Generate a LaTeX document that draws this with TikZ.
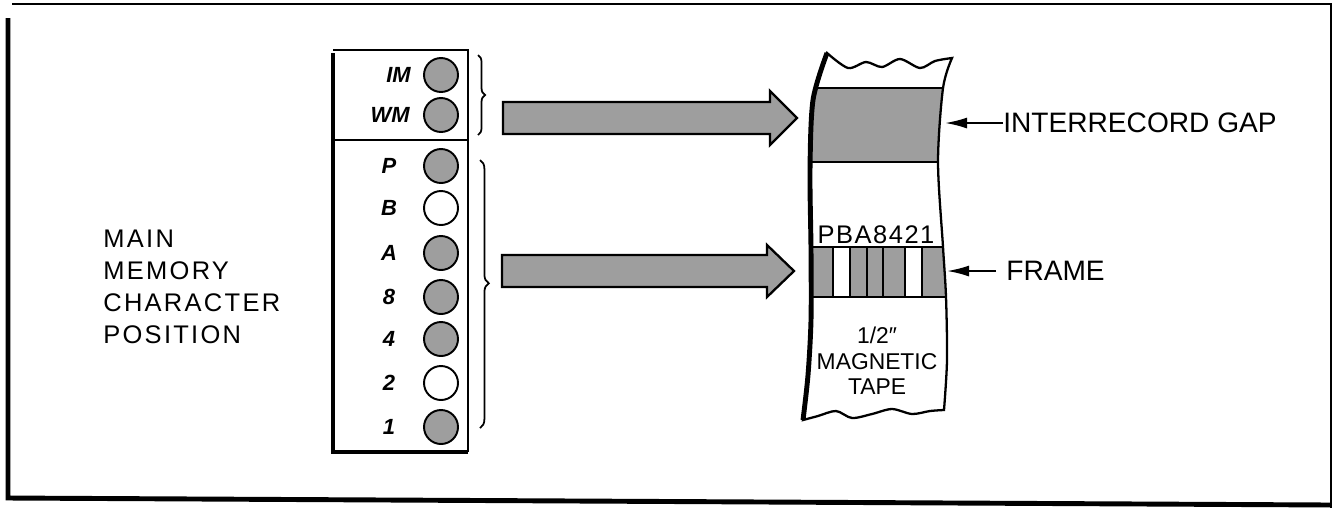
\documentclass[tikz,border=0pt]{standalone}
\usepackage{fontspec}
\setmainfont{Liberation Sans}
\usetikzlibrary{arrows.meta, decorations.pathreplacing, positioning}

\def\tapeoutline{plot[smooth] coordinates {(827,53) (848,68) (866,62) (882,67) (900,59) (920,68) (935,61) (952,58)}
 -- plot[smooth] coordinates {(952,58) (943,88) (938,162) (943,247) (946,297) (947,360) (944,410)}
 -- plot[smooth] coordinates {(944,410) (930,411) (912,414) (892,409) (872,414) (852,418) (836,411) (818,416) (803,420)}
 -- plot[smooth] coordinates {(803,420) (808,375) (811,320) (811,250) (810,170) (813,100) (827,53)} -- cycle}

\begin{document}
\begin{tikzpicture}[x=.02cm,y=-.02cm,>={Latex[length=.44cm,width=.22cm]},
 every node/.style={inner sep=0pt},
 lett/.style={font=\fontsize{14.5}{18.2}\selectfont\addfontfeature{LetterSpace=9}},
 big/.style={font=\fontsize{16}{18}\selectfont},
 bitlbl/.style={font=\fontsize{12.5}{14}\selectfont\bfseries\itshape},
 on/.style={circle,draw,line width=1.1pt,minimum size=.68cm,fill=black!38},
 off/.style={circle,draw,line width=1.1pt,minimum size=.68cm,fill=white},
 dots/.style={fill=black!38},
 fat/.style={line width=2.8pt},
 blk/.style={draw,line width=1.3pt,fill=black!38,line join=miter}]
 \useasboundingbox (0,0) rectangle (1337,508);
 % outer frame
 \draw[line width=1pt] (12,4) -- (1331,4) -- (1331,508);
 \draw[fat] (8,18) -- (8,498) -- (1331,505);
 % memory position
 \draw[line width=1pt] (333,50) -- (468,50) -- (468,452);
 \draw[fat] (333,53) -- (333,452) -- (468,452);
 \draw[line width=1pt] (333,140) -- (468,140);
 \node[on] (im) at (441,75) {};
 \node[on] (wm) at (441,115) {};
 \node[on] (p) at (441,166) {};
 \node[off] (b) at (441,208) {};
 \node[on] (a) at (441,253) {};
 \node[on] (e) at (441,297) {};
 \node[on] (f) at (441,339) {};
 \node[off] (t) at (441,383) {};
 \node[on] (o) at (441,427) {};
 \node[bitlbl,left=.24cm of im] {IM};
 \node[bitlbl,left=.26cm of wm] {WM};
 \node[bitlbl] at (389,166) {P};
 \node[bitlbl] at (389,208) {B};
 \node[bitlbl] at (389,253) {A};
 \node[bitlbl] at (389,297) {8};
 \node[bitlbl] at (389,339) {4};
 \node[bitlbl] at (389,383) {2};
 \node[bitlbl] at (389,427) {1};
 \node[lett,align=left,anchor=west] (mm) at (103,287) {MAIN\\MEMORY\\CHARACTER\\POSITION};
 % braces
 \draw[decorate,decoration={brace,amplitude=4pt},line width=1pt] (478,55) -- (478,135);
 \draw[decorate,decoration={brace,amplitude=5pt,aspect=.46},line width=1pt] (480,160) -- (480,428);
 % block arrows
 \draw[blk] (503,102) -- (770,102) -- (770,91) -- (797,118) -- (770,145) -- (770,134) -- (503,134) -- cycle;
 \draw[blk] (502,255) -- (767,255) -- (767,245) -- (794,271) -- (767,297) -- (767,287) -- (502,287) -- cycle;
 % tape
 \begin{scope}
  \clip \tapeoutline;
  \fill[white] (790,40) rectangle (960,430);
  \fill[dots] (790,88) rectangle (960,162);
  \fill[dots] (790,247) rectangle (833,297);
  \fill[dots] (850,247) rectangle (905,297);
  \fill[dots] (922,247) rectangle (960,297);
  \draw[line width=1.2pt] (790,88) -- (960,88) (790,162) -- (960,162)
   (790,247) -- (960,247) (790,297) -- (960,297);
  \draw[line width=1.2pt] (833,247) -- (833,297) (850,247) -- (850,297) (867,247) -- (867,297)
   (883,247) -- (883,297) (905,247) -- (905,297) (922,247) -- (922,297);
 \end{scope}
 \draw[line width=1.3pt] \tapeoutline;
 \draw[fat] plot[smooth] coordinates {(803,420) (808,375) (811,320) (811,250) (810,170) (813,100) (827,53)};
 \node[font=\fontsize{14.5}{16}\selectfont\addfontfeature{LetterSpace=6}] (bits) at (876,235) {PBA8421};
 \node[font=\fontsize{13}{14.5}\selectfont,align=center] (tape) at (877,361) {1/2″\\MAGNETIC\\TAPE};
 % labels on the right
 \coordinate (gapin) at (945,123);
 \coordinate (frin) at (947,271);
 \node[big,right=1.16cm of gapin] (gaplbl) {INTERRECORD GAP};
 \node[big,right=1.18cm of frin] (frlbl) {FRAME};
 \draw[->,line width=1.1pt] (gaplbl.west) -- (gapin);
 \draw[->,line width=1.1pt,shorten <=.2cm] (frlbl.west) -- (frin);
\end{tikzpicture}
\end{document}
